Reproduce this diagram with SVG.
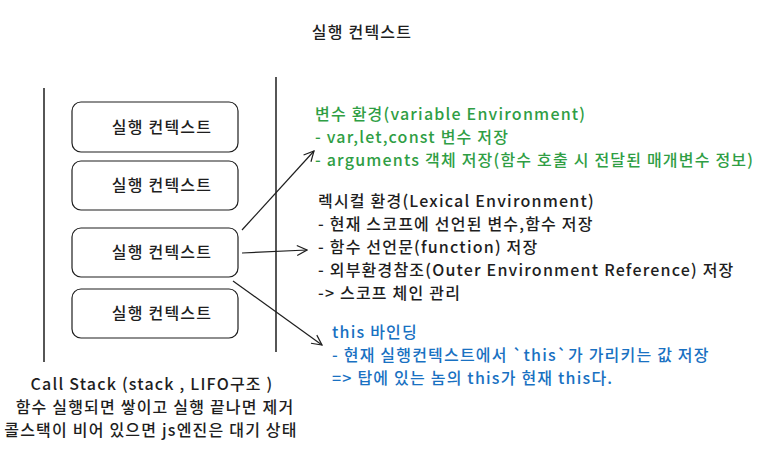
<svg xmlns="http://www.w3.org/2000/svg" width="776" height="450" viewBox="0 0 776 450">
<defs>
<style>
text{font-family:"Noto Sans CJK KR","Noto Sans",sans-serif;font-size:16px;letter-spacing:1.2px;font-weight:500;fill:#1e1e1e}
.title{text-anchor:middle}
.node rect{fill:#fff;stroke:#1e1e1e;stroke-width:1.2}
.node text{text-anchor:middle}
.green{fill:#2f9e44}
.blue{fill:#1971c2}
.wall{stroke:#1e1e1e;stroke-width:1.5;fill:none}
.conn{stroke:#1e1e1e;stroke-width:1.2;fill:none;marker-end:url(#arr)}
.cap{text-anchor:middle}
</style>
<marker id="arr" viewBox="0 0 12 12" refX="11" refY="6" markerWidth="12" markerHeight="12" markerUnits="userSpaceOnUse" orient="auto">
<path d="M1,1 L11,6 L1,11" fill="none" stroke="#1e1e1e" stroke-width="1.2"/>
</marker>
</defs>
<rect width="776" height="450" fill="#fff"/>
<text class="title" x="362" y="38">실행 컨텍스트</text>
<g id="stack">
<line class="wall" x1="44" y1="88" x2="44" y2="362"/>
<line class="wall" x1="276" y1="77" x2="276" y2="352"/>
</g>
<g id="ctx1" class="node"><rect x="72" y="102" width="166" height="50" rx="9"/><text x="162" y="133">실행 컨텍스트</text></g>
<g id="ctx2" class="node"><rect x="72" y="161" width="166" height="49" rx="9"/><text x="162" y="191">실행 컨텍스트</text></g>
<g id="ctx3" class="node"><rect x="72" y="228" width="166" height="49" rx="9"/><text x="162" y="258">실행 컨텍스트</text></g>
<g id="ctx4" class="node"><rect x="72" y="289" width="166" height="49" rx="9"/><text x="162" y="319">실행 컨텍스트</text></g>
<g id="connectors">
<line class="conn" x1="242" y1="230" x2="314" y2="151"/>
<line class="conn" x1="242" y1="253" x2="307" y2="250"/>
<line class="conn" x1="233" y1="281" x2="322" y2="345"/>
</g>
<g id="varenv">
<text class="green" x="315" y="120">변수 환경(variable Environment)</text>
<text class="green" x="315" y="143">- var,let,const 변수 저장</text>
<text class="green" x="315" y="166">- arguments 객체 저장(함수 호출 시 전달된 매개변수 정보)</text>
</g>
<g id="lexenv">
<text x="318" y="207">렉시컬 환경(Lexical Environment)</text>
<text x="318" y="230">- 현재 스코프에 선언된 변수,함수 저장</text>
<text x="318" y="253">- 함수 선언문(function) 저장</text>
<text x="318" y="276">- 외부환경참조(Outer Environment Reference) 저장</text>
<text x="318" y="299">-&gt; 스코프 체인 관리</text>
</g>
<g id="thisbind">
<text class="blue" x="332" y="338">this 바인딩</text>
<text class="blue" x="332" y="361">- 현재 실행컨텍스트에서 `this`가 가리키는 값 저장</text>
<text class="blue" x="332" y="384">=&gt; 탑에 있는 놈의 this가 현재 this다.</text>
</g>
<g id="caption">
<text class="cap" x="152" y="390">Call Stack (stack , LIFO구조 )</text>
<text class="cap" x="155" y="413">함수 실행되면 쌓이고 실행 끝나면 제거</text>
<text class="cap" x="151" y="436">콜스택이 비어 있으면 js엔진은 대기 상태</text>
</g>
</svg>
